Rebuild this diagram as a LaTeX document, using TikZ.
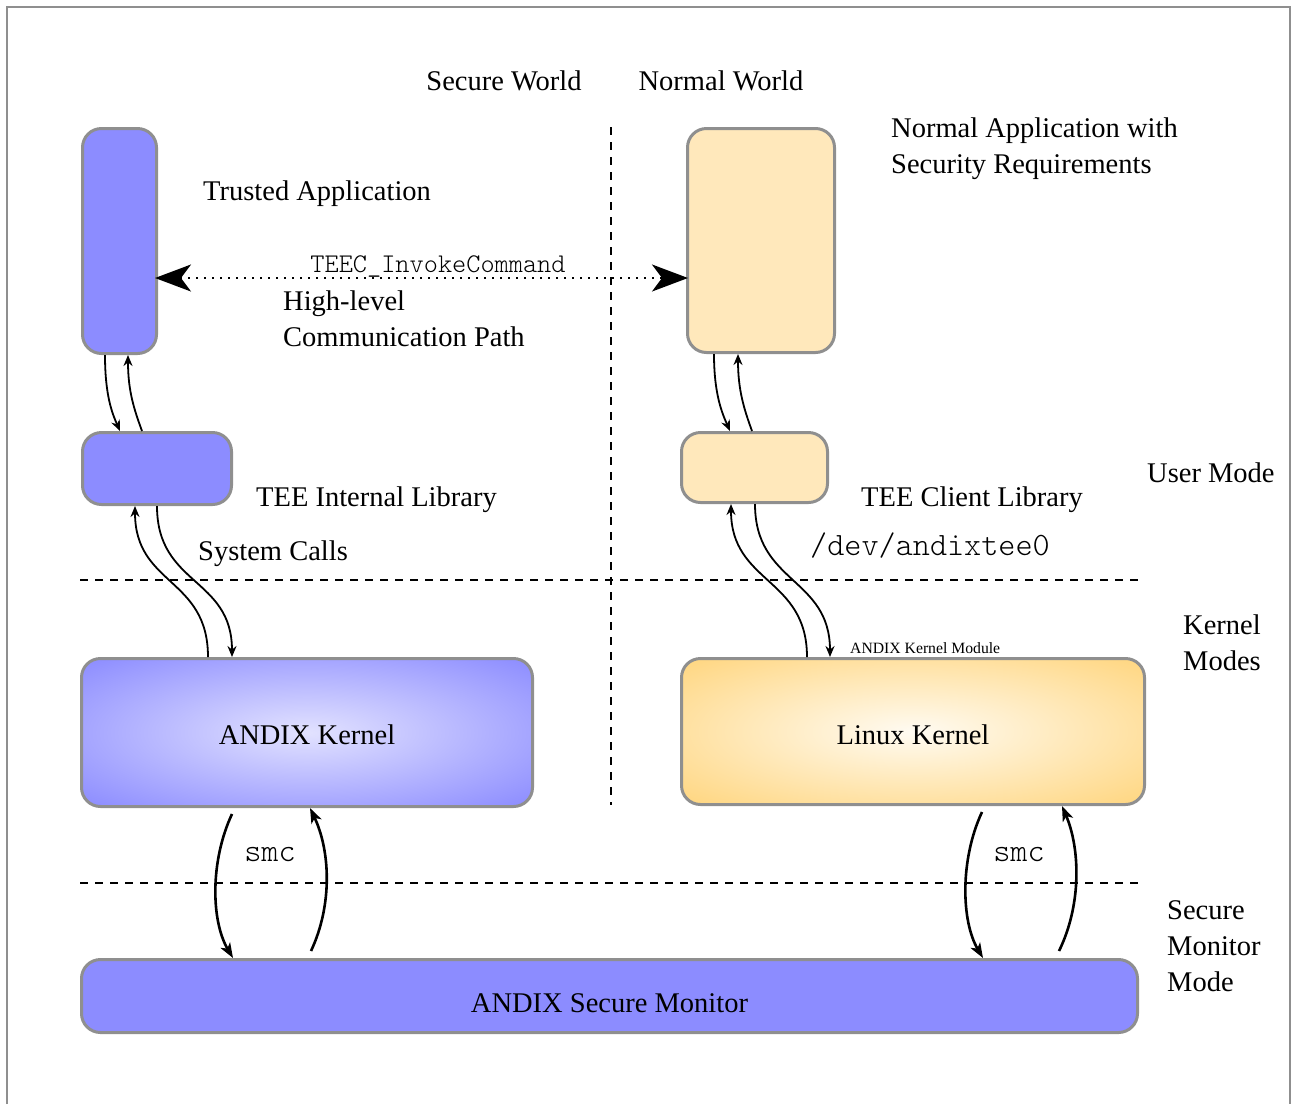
\documentclass[tikz,border=0pt]{standalone}
\usepackage{fontspec}
\setmainfont{Liberation Serif}
\setmonofont{lmmonolt10-regular.otf}
\usetikzlibrary{arrows.meta,calc}

\definecolor{secblue}{HTML}{8C8CFF}
\definecolor{secbluein}{HTML}{E2E2FF}
\definecolor{normbeige}{HTML}{FFE8BB}
\definecolor{linuxout}{HTML}{FFD680}
\definecolor{linuxin}{HTML}{FFFBF2}
\definecolor{edgegray}{HTML}{8F8F8F}

\pgfdeclareradialshading{andixglow}{\pgfpoint{0bp}{0bp}}{color(0bp)=(secbluein); color(35bp)=(secblue); color(50bp)=(secblue)}
\pgfdeclareradialshading{linuxglow}{\pgfpoint{0bp}{0bp}}{color(0bp)=(linuxin); color(35bp)=(linuxout); color(50bp)=(linuxout)}

% box caption whose baseline sits #1 below the box centre
\newcommand{\boxcaption}[2]{\raisebox{-#1}[0pt][0pt]{#2}}

\begin{document}
\begin{tikzpicture}[x=1pt,y=-1pt,
  font=\fontsize{28.5}{36}\selectfont,
  box/.style={draw=edgegray, line width=3pt, rounded corners=19pt, inner sep=0pt},
  secbox/.style={box, fill=secblue},
  normbox/.style={box, fill=normbeige},
  lbl/.style={anchor=base west, inner sep=0pt, align=left},
  ctr/.style={anchor=base, inner sep=0pt},
  monolbl/.style={font=\ttfamily\fontsize{32.6}{38}\selectfont},
  flow/.style={-{Stealth[length=11pt,width=9pt]}, line width=1.8pt},
  smcflow/.style={-{Stealth[length=15pt,width=11pt,inset=4pt]}, line width=2.6pt},
  divider/.style={dash pattern=on 8pt off 7pt, line width=1.6pt}]

\useasboundingbox (0,0) rectangle (1293,1104);
\draw[edgegray, line width=1.4pt] (7,1104) -- (7,7) -- (1290,7) -- (1290,1104);

% world and mode separators
\draw[divider] (611,127) -- (611,805);
\draw[divider] (80,580) -- (1140,580);
\draw[divider] (80,883) -- (1140,883);

% boxes
\node[secbox, minimum width=74pt, minimum height=225pt] (ta) at (119.5,241) {};
\node[normbox, minimum width=147pt, minimum height=224pt] (na) at (761,240.5) {};
\node[secbox, minimum width=149pt, minimum height=72pt] (til) at (157,468.5) {};
\node[normbox, minimum width=146pt, minimum height=70pt] (tcl) at (754.5,467.5) {};
\node[box, shading=andixglow, minimum width=451pt, minimum height=148pt] (ak) at (307,732.5) {\boxcaption{12pt}{ANDIX Kernel}};
\node[box, shading=linuxglow, minimum width=463pt, minimum height=146pt] (lk) at (913,731.5) {\boxcaption{13pt}{Linux Kernel}};
\node[secbox, minimum width=1056pt, minimum height=73pt] (asm) at (609.5,996) {\boxcaption{16.5pt}{ANDIX Secure Monitor}};

% labels (multi-line labels sit on the baseline of their last line)
\node[ctr] (sw) at (504,90) {Secure World};
\node[ctr] (nw) at (721,90) {Normal World};
\node[lbl] (talbl) at (203,200) {Trusted Application};
\node[lbl] (nalbl) at (891,173) {Normal Application with\\Security Requirements};
\node[ctr, font=\ttfamily\fontsize{27}{32}\selectfont] (teec) at (438,272) {TEEC\_InvokeCommand};
\node[lbl] (hl) at (283,346) {High-level\\Communication Path};
\node[lbl] (tillbl) at (256,506) {TEE Internal Library};
\node[lbl] (tcllbl) at (861,506) {TEE Client Library};
\node[lbl] (um) at (1147,482) {User Mode};
\node[lbl] (sc) at (198,560) {System Calls};
\node[lbl, monolbl] (dev) at (810,555) {/dev/andixtee0};
\node[lbl, font=\fontsize{15.7}{18}\selectfont] (akm) at (850,653) {ANDIX Kernel Module};
\node[lbl] (km) at (1183,670) {Kernel\\Modes};
\node[ctr, monolbl] (smc1) at (270,861) {smc};
\node[ctr, monolbl] (smc2) at (1019,861) {smc};
\node[lbl] (smm) at (1167,991) {Secure\\Monitor\\Mode};

% high-level communication path
\draw[dash pattern=on 2pt off 6pt, line width=2pt,
  {Stealth[length=36pt,width=27pt,inset=10pt]}-{Stealth[length=36pt,width=27pt,inset=10pt]}]
  ($(ta.east)+(-3,37)$) -- ($(na.west)+(2,37.5)$);

% application <-> library
\draw[flow] ($(ta.south)+(-14.5,0)$) .. controls +(0,40) and +(-8,-18) .. ($(til.north)+(-37,0)$);
\draw[flow] ($(til.north)+(-15,0)$) .. controls +(-8,-22) and +(0,36) .. ($(ta.south)+(8.5,0)$);
\draw[flow] ($(na.south)+(-47,0)$) .. controls +(0,40) and +(-8,-18) .. ($(tcl.north)+(-24.5,0)$);
\draw[flow] ($(tcl.north)+(-2.5,0)$) .. controls +(-8,-22) and +(0,36) .. ($(na.south)+(-23,0)$);

% library <-> kernel
\draw[flow] ($(ak.north)+(-99,0)$) .. controls +(0,-80) and +(0,80) .. ($(til.south)+(-22,0)$);
\draw[flow] (til.south) .. controls +(0,80) and +(0,-80) .. ($(ak.north)+(-75,0)$);
\draw[flow] ($(lk.north)+(-106,0)$) .. controls +(0,-80) and +(0,80) .. ($(tcl.south)+(-23.5,0)$);
\draw[flow] ($(tcl.south)+(0.5,0)$) .. controls +(0,80) and +(0,-80) .. ($(lk.north)+(-83,0)$);

% secure monitor calls
\draw[smcflow] ($(ak.south)+(-75,6)$) .. controls +(-22,47) and +(-22,-37) .. ($(asm.north)+(-376.5,0)$);
\draw[smcflow] ($(asm.north)+(-298.5,-7)$) .. controls +(22,-47) and +(20,42) .. ($(ak.south)+(3,0)$);
\draw[smcflow] ($(lk.south)+(69,6)$) .. controls +(-22,47) and +(-22,-37) .. ($(asm.north)+(373.5,0)$);
\draw[smcflow] ($(asm.north)+(449.5,-7)$) .. controls +(23,-47) and +(18,42) .. ($(lk.south)+(149,0)$);
\end{tikzpicture}
\end{document}
